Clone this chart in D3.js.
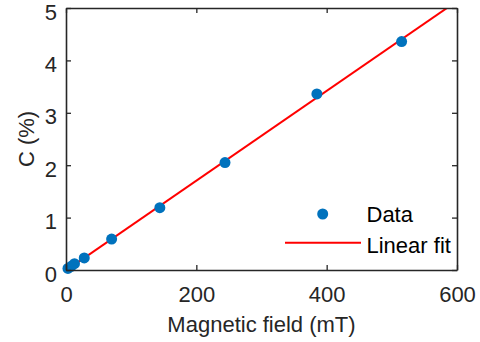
<!DOCTYPE html>
<html>
<head>
<meta charset="utf-8">
<script src="https://cdn.jsdelivr.net/npm/d3@7"></script>
<style>
  html, body { margin: 0; padding: 0; background: #fff; }
  svg { display: block; font-family: "Liberation Sans", Arial, sans-serif; }
</style>
</head>
<body>
<svg id="chart" width="480" height="342"></svg>
<script>
// Measured concentration vs applied magnetic field
const field = [3, 8, 13, 28, 70, 144, 244, 385, 515];        // mT
const conc  = [0.03, 0.07, 0.12, 0.23, 0.59, 1.19, 2.05, 3.36, 4.36]; // %

// Linear fit coefficients (C = slope * B + intercept)
const fitSlope = 0.00857;
const fitIntercept = -0.01;
const fitRange = [0, 600];

const xTicks = [0, 200, 400, 600];
const yTicks = [0, 1, 2, 3, 4, 5];
const legendLabels = ["Data", "Linear fit"];

const W = 480, H = 342;
const margin = { left: 66, right: 23, top: 8, bottom: 72 };
const iw = W - margin.left - margin.right;
const ih = H - margin.top - margin.bottom;

const ink = "#262626";
const dotColor = "#0072BD";
const fitColor = "#FF0000";
const fontSize = "22px";

const svg = d3.select("#chart");
const g = svg.append("g").attr("transform", `translate(${margin.left},${margin.top})`);

const x = d3.scaleLinear().domain([0, 600]).range([0, iw]);
const y = d3.scaleLinear().domain([0, 5]).range([ih, 0]);

g.append("clipPath").attr("id", "plot-clip")
  .append("rect").attr("width", iw).attr("height", ih);

// Fit line
const fitLine = d3.line().x(d => x(d)).y(d => y(fitSlope * d + fitIntercept));
g.append("path")
  .datum(fitRange)
  .attr("clip-path", "url(#plot-clip)")
  .attr("d", fitLine)
  .attr("fill", "none")
  .attr("stroke", fitColor)
  .attr("stroke-width", 2);

// Data points
g.selectAll("circle.pt")
  .data(field.map((f, i) => [f, conc[i]]))
  .join("circle")
  .attr("class", "pt")
  .attr("cx", d => x(d[0]))
  .attr("cy", d => y(d[1]))
  .attr("r", 5.5)
  .attr("fill", dotColor);

// Axes with inward ticks on all four sides
function styleAxis(sel) {
  sel.selectAll(".domain").attr("stroke", ink).attr("stroke-width", 1.6);
  sel.selectAll(".tick line").attr("stroke", ink).attr("stroke-width", 1.3);
  sel.selectAll("text").attr("fill", ink).style("font-size", fontSize)
     .style("font-family", '"Liberation Sans", Arial, sans-serif');
}

const tickLen = 5;
g.append("g").attr("transform", `translate(0,${ih})`)
  .call(d3.axisBottom(x).tickValues(xTicks).tickFormat(d3.format("d"))
        .tickSizeInner(-tickLen).tickSizeOuter(0).tickPadding(16))
  .call(styleAxis);

g.append("g")
  .call(d3.axisTop(x).tickValues(xTicks).tickFormat("")
        .tickSizeInner(-tickLen).tickSizeOuter(0))
  .call(styleAxis);

g.append("g")
  .call(d3.axisLeft(y).tickValues(yTicks).tickFormat(d3.format("d"))
        .tickSizeInner(-tickLen).tickSizeOuter(0).tickPadding(9))
  .call(styleAxis)
  .selectAll("text").attr("dy", "0.5em");

g.append("g").attr("transform", `translate(${iw},0)`)
  .call(d3.axisRight(y).tickValues(yTicks).tickFormat("")
        .tickSizeInner(-tickLen).tickSizeOuter(0))
  .call(styleAxis);

// Axis titles
svg.append("text")
  .attr("x", margin.left + iw / 2)
  .attr("y", 332)
  .attr("text-anchor", "middle")
  .attr("fill", ink)
  .style("font-size", fontSize)
  .text("Magnetic field (mT)");

svg.append("text")
  .attr("transform", `translate(34,${margin.top + ih / 2}) rotate(-90)`)
  .attr("text-anchor", "middle")
  .attr("fill", ink)
  .style("font-size", fontSize)
  .text("C (%)");

// Legend
const leg = svg.append("g");
leg.append("circle").attr("cx", 322.7).attr("cy", 214).attr("r", 5.5).attr("fill", dotColor);
leg.append("line").attr("x1", 285).attr("x2", 361).attr("y1", 242.7).attr("y2", 242.7)
  .attr("stroke", fitColor).attr("stroke-width", 2);
leg.selectAll("text.leg")
  .data(legendLabels)
  .join("text")
  .attr("class", "leg")
  .attr("x", 366.5)
  .attr("y", (d, i) => 222 + i * 31)
  .attr("fill", "#000")
  .style("font-size", fontSize)
  .text(d => d);
</script>
</body>
</html>
